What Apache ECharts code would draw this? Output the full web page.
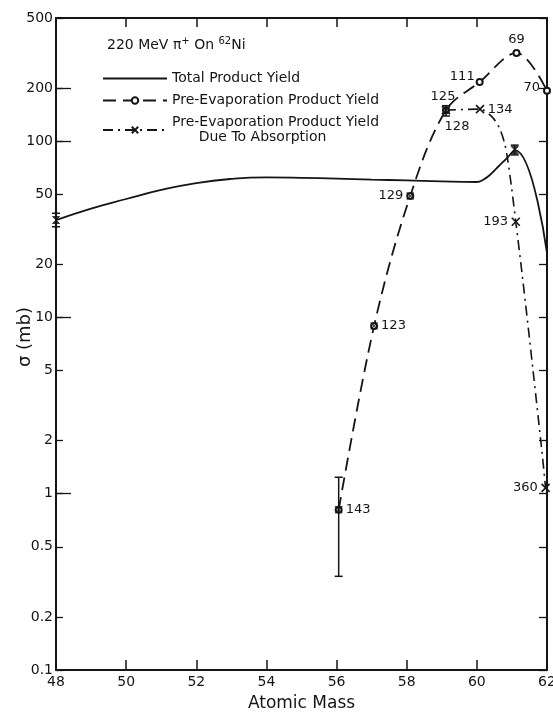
<!DOCTYPE html>
<html>
<head>
<meta charset="utf-8">
<script src="https://cdn.jsdelivr.net/npm/echarts@6/dist/echarts.min.js"></script>
<style>
html,body{margin:0;padding:0;background:#fff;}
#chart{width:553px;height:712px;}
</style>
</head>
<body>
<div id="chart"></div>
<script>
// ---------- data ----------
const yTicks = [0.1, 0.2, 0.5, 1, 2, 5, 10, 20, 50, 100, 200, 500];
const yLongTicks = [1, 10, 100, 200];

// Total product yield (solid curve)
const totalMass  = [48.0, 49.0, 50.0, 51.0, 52.0, 53.0, 54.0, 55.0, 56.0, 57.0, 58.0, 59.0, 60.0, 60.17, 60.37, 60.6, 60.88, 61.08, 62.0];
const totalYield = [35.7, 41.5, 47.0, 52.9, 57.9, 61.1, 62.3, 62.0, 61.4, 60.6, 59.9, 59.1, 58.7, 60.2, 64.3, 71.4, 81.0, 89.0, 23.2];
const totalMarkMass  = [48.0, 61.08];
const totalMarkYield = [35.7, 89.0];

// Pre-evaporation product yield (dashed curve, circles)
const preMass   = [56.06, 57.07, 58.10, 59.12, 60.08, 61.13, 62.0];
const preYield  = [0.81, 8.96, 48.9, 150, 217, 317, 193];
const preLabels = ['143', '123', '129', '125', '111', '69', '70'];

// Pre-evaporation product yield due to absorption (dash-dot curve, crosses)
const absMass   = [59.12, 60.09, 60.44, 60.64, 60.79, 60.88, 60.98, 61.11, 61.30, 61.60, 61.86, 61.96];
const absYield  = [150, 152, 137, 119, 97.6, 78.3, 56.4, 34.9, 17.0, 5.05, 1.70, 1.08];
const absLabels = ['128', '134', '', '', '', '', '', '193', '', '', '', '360'];

// points where both pre-evaporation values coincide (circle + cross)
const bothMass  = [56.06, 57.07, 58.10];
const bothYield = [0.81, 8.96, 48.9];

// error bars
const errMass = [48.0, 61.08, 59.12, 56.06];
const errLow  = [32.7, 83.6, 139, 0.34];
const errHigh = [39.0, 95.0, 159, 1.24];

// ---------- styling ----------
const INK = '#151515';
const FONT = 'DejaVu Sans';
const crossPath = 'path://M0,0L10,10M10,0L0,10';
const hourglassPath = 'path://M0,0L10,0L0,10L10,10Z';
const lineIconPath = 'path://M0,0L64,0L64,1.8L0,1.8Z';

const preLabelStyle = [
  {position: 'right', offset: [0, 0]},
  {position: 'right', offset: [0, 0]},
  {position: 'left',  offset: [0, 0]},
  {position: 'top',   offset: [-3, 0]},
  {position: 'left',  offset: [2, -5]},
  {position: 'top',   offset: [0, 0]},
  {position: 'left',  offset: [0, -3]}
];
const absLabelStyle = {
  '128': {position: 'bottom', offset: [11, 2]},
  '134': {position: 'right', offset: [0, 0]},
  '193': {position: 'left', offset: [0, 0]},
  '360': {position: 'left', offset: [0, 0]}
};

const labelText = {fontFamily: FONT, fontSize: 13, color: INK, distance: 3};

const preData = preMass.map((m, i) => ({
  value: [m, preYield[i]],
  label: Object.assign({show: true, formatter: preLabels[i]}, labelText, preLabelStyle[i])
}));
const absData = absMass.map((m, i) => {
  const item = {value: [m, absYield[i]]};
  if (absLabels[i]) {
    item.label = Object.assign({show: true, formatter: absLabels[i]}, labelText, absLabelStyle[absLabels[i]]);
  } else {
    item.symbol = 'none';
  }
  return item;
});

const NAME_TOTAL = 'Total Product Yield';
const NAME_PRE = 'Pre-Evaporation Product Yield';
const NAME_ABS = 'Pre-Evaporation Product Yield\n      Due To Absorption';

const yFmt = v => (v >= 1 ? String(Math.round(v)) : (Math.round(v * 10) / 10).toFixed(1));

const baseY = {
  type: 'log', logBase: 10, min: 0.1, max: 500,
  splitLine: {show: false}
};

const option = {
  backgroundColor: '#fff',
  animation: false,
  textStyle: {fontFamily: FONT},
  title: {
    text: '220 MeV π{sup|+} On {sup|62}Ni',
    left: 102, top: 31,
    textStyle: {
      fontFamily: FONT, fontSize: 14, fontWeight: 'normal', color: INK, lineHeight: 18,
      rich: {sup: {fontFamily: FONT, fontSize: 10, color: INK, verticalAlign: 'top', lineHeight: 10}}
    }
  },
  legend: {
    orient: 'vertical', left: 97, top: 66,
    itemWidth: 64, itemHeight: 8, itemGap: 7,
    selectedMode: false,
    data: [
      {name: NAME_TOTAL, icon: lineIconPath},
      NAME_PRE,
      NAME_ABS
    ],
    textStyle: {fontFamily: FONT, fontSize: 14, color: INK, lineHeight: 15}
  },
  grid: {left: 56, right: 6, top: 18, bottom: 42, containLabel: false, outerBoundsMode: 'none'},
  xAxis: [
    {
      type: 'value', min: 48, max: 62, interval: 2, position: 'bottom',
      name: 'Atomic Mass', nameLocation: 'middle', nameGap: 25, nameMoveOverlap: false,
      nameTextStyle: {fontFamily: FONT, fontSize: 17, color: INK},
      axisLine: {lineStyle: {color: INK, width: 2}},
      axisTick: {inside: true, length: 10, lineStyle: {color: INK, width: 1.5}},
      axisLabel: {fontFamily: FONT, fontSize: 14, color: INK, margin: 5},
      splitLine: {show: false}
    },
    {
      type: 'value', min: 48, max: 62, interval: 2, position: 'top',
      axisLine: {lineStyle: {color: INK, width: 2}},
      axisTick: {inside: true, length: 9, lineStyle: {color: INK, width: 1.5}},
      axisLabel: {show: false},
      splitLine: {show: false}
    }
  ],
  yAxis: [
    Object.assign({}, baseY, {
      position: 'left',
      name: 'σ (mb)', nameLocation: 'middle', nameGap: 22, nameRotate: 90, nameMoveOverlap: false,
      nameTextStyle: {fontFamily: FONT, fontSize: 18, color: INK, padding: [0, 0, 0, 14]},
      axisLine: {show: true, lineStyle: {color: INK, width: 2}},
      axisTick: {inside: true, length: 7, customValues: yTicks, lineStyle: {color: INK, width: 1.3}},
      axisLabel: {customValues: yTicks, formatter: yFmt, fontFamily: FONT, fontSize: 14, color: INK, margin: 3}
    }),
    Object.assign({}, baseY, {
      position: 'left',
      axisLine: {show: false},
      axisTick: {inside: true, length: 15, customValues: yLongTicks, lineStyle: {color: INK, width: 1.3}},
      axisLabel: {show: false}
    }),
    Object.assign({}, baseY, {
      position: 'right',
      axisLine: {show: true, lineStyle: {color: INK, width: 2}},
      axisTick: {inside: true, length: 8, customValues: yTicks, lineStyle: {color: INK, width: 1.3}},
      axisLabel: {show: false}
    })
  ],
  series: [
    {
      name: NAME_TOTAL, type: 'line', xAxisIndex: 0, yAxisIndex: 0,
      data: totalMass.map((m, i) => [m, totalYield[i]]),
      symbol: 'none', smooth: 0.5,
      lineStyle: {color: INK, width: 1.8},
      itemStyle: {color: INK},
      z: 3
    },
    {
      name: NAME_PRE, type: 'line', xAxisIndex: 0, yAxisIndex: 0,
      data: preData,
      symbol: 'emptyCircle', symbolSize: 6, showAllSymbol: true,
      smooth: 0.35,
      lineStyle: {color: INK, width: 1.8, type: [13, 7]},
      itemStyle: {color: INK, borderColor: INK, borderWidth: 1.3},
      clip: false,
      z: 4
    },
    {
      name: NAME_ABS, type: 'line', xAxisIndex: 0, yAxisIndex: 0,
      data: absData,
      symbol: crossPath, symbolSize: 8, showAllSymbol: true,
      smooth: 0.3,
      lineStyle: {color: INK, width: 1.6, type: [10, 5, 2, 5]},
      itemStyle: {color: INK, borderColor: INK, borderWidth: 1.6},
      clip: false,
      z: 4
    },
    {
      type: 'scatter', xAxisIndex: 0, yAxisIndex: 0,
      data: bothMass.map((m, i) => [m, bothYield[i]]),
      symbol: crossPath, symbolSize: 7,
      itemStyle: {color: INK, borderColor: INK, borderWidth: 1.4},
      z: 5
    },
    {
      type: 'scatter', xAxisIndex: 0, yAxisIndex: 0,
      data: totalMarkMass.map((m, i) => [m, totalMarkYield[i]]),
      symbol: hourglassPath, symbolSize: 7,
      itemStyle: {color: INK, borderColor: INK, borderWidth: 1},
      clip: false,
      z: 5
    },
    {
      type: 'custom', xAxisIndex: 0, yAxisIndex: 0,
      data: errMass.map((m, i) => [m, errLow[i], errHigh[i]]),
      clip: false,
      renderItem: function (params, api) {
        const x = api.value(0);
        const lo = api.coord([x, api.value(1)]);
        const hi = api.coord([x, api.value(2)]);
        const w = 4;
        const st = {stroke: INK, lineWidth: 1.5};
        return {
          type: 'group',
          children: [
            {type: 'line', shape: {x1: lo[0], y1: lo[1], x2: hi[0], y2: hi[1]}, style: st},
            {type: 'line', shape: {x1: lo[0] - w, y1: lo[1], x2: lo[0] + w, y2: lo[1]}, style: st},
            {type: 'line', shape: {x1: hi[0] - w, y1: hi[1], x2: hi[0] + w, y2: hi[1]}, style: st}
          ]
        };
      },
      z: 6
    }
  ]
};

const chart = echarts.init(document.getElementById('chart'), null, {renderer: 'canvas'});
chart.setOption(option);
</script>
</body>
</html>
